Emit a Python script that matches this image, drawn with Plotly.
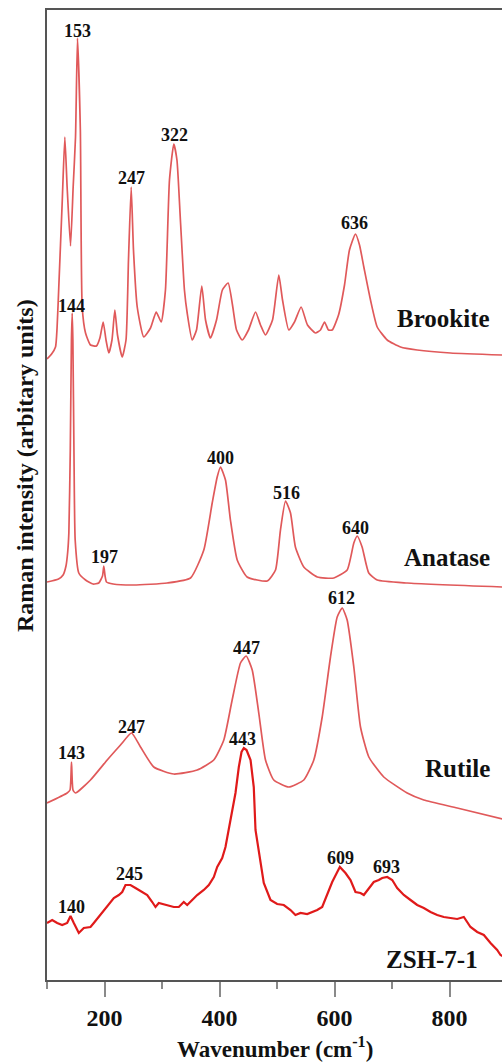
import plotly.graph_objects as go

# ---------------- data (wavenumber in cm-1, intensity in arbitrary units, stacked) -------------
brookite_x = [100, 108, 114.8, 117.5, 120.5, 126.4, 131, 135, 140.9, 145.5, 149.6, 153, 158, 161.2, 167,
              175.6, 186, 192, 197.7, 202.6, 207.5, 213, 218, 222.6, 230.8, 237.4, 241.7, 246.4, 250.4,
              256.9, 268.3, 280, 289.9, 298.6, 306, 313, 320.5, 326, 332, 339, 343.8, 352.5, 360, 369.2,
              375.7, 384.3, 394.8, 405, 415, 422.6, 429.6, 439.5, 450.4, 462.6, 471.3, 480, 492.2, 503.1,
              509.6, 520.5, 530.4, 542, 553, 567, 575.6, 582.6, 589.5, 596, 607, 617.4, 626, 636.5, 643.5,
              651, 662.6, 674.3, 691.7, 714.8, 743.8, 801.7, 892]
brookite_y = [621, 626, 633, 652, 693, 777, 843, 793, 734, 793, 843, 942, 850, 673, 647,
              635, 634, 642, 658, 640, 627, 640, 670, 645, 623, 640, 720, 793, 730,
              673, 643, 652, 668, 658, 690, 800, 836, 820, 760, 690, 667, 640, 650, 694,
              660, 642, 660, 690, 697, 675, 650, 640, 650, 668, 655, 645, 660, 705,
              680, 650, 658, 673, 655, 647, 650, 658, 650, 650, 665, 695, 730, 746, 735,
              713, 680, 653, 640, 633, 630, 627, 625]

anatase_x = [100, 120, 128, 133, 136, 138, 140.5, 142.5, 143.8, 145, 147, 149, 155.3, 167, 180, 190,
             196.5, 198.8, 201, 203.5, 215, 251, 309, 349.6, 372.7, 387.3, 396, 401.7, 410.4, 419,
             430.8, 448, 483, 497.4, 506, 514.8, 523.5, 532, 546.6, 570, 598.8, 622, 633.6, 639.5,
             648, 659.6, 674.3, 726.4, 892]
anatase_y = [398, 401, 405, 414, 428, 447, 530, 640, 667, 640, 520, 440, 407, 400, 396, 397,
             404, 414, 404, 398, 396, 395, 397, 402, 430, 477, 503, 513, 500, 460,
             420, 403, 399, 410, 450, 479, 467, 433, 413, 403, 402, 410, 437, 444,
             433, 407, 400, 397, 393]

rutile_x = [100, 135, 140, 142.6, 145.2, 149.6, 175.6, 204.7, 227.8, 247, 262.6, 285.7, 320.5, 361.2,
            390, 407.5, 422, 436.5, 446.4, 456.9, 468.3, 480, 494.4, 520.5, 546.6, 564, 578.6, 593,
            604.7, 613.4, 622, 633.6, 645.2, 659.7, 685.7, 726.4, 755.3, 813.4, 892]
rutile_y = [177, 187, 190, 218, 190, 187, 200, 220, 235, 247, 233, 213, 206, 210,
            220, 240, 280, 317, 324, 310, 267, 220, 200, 193, 200, 220, 263, 323,
            363, 372, 360, 313, 253, 223, 203, 187, 180, 172, 161]

zsh_x = [100, 109, 117.7, 126.4, 135.1, 140.9, 146.6, 155.3, 164, 175.6, 181.4, 193, 204.7, 216.2, 224.9,
         230.8, 236.5, 245.2, 253.9, 262.6, 274.3, 283, 288.7, 294.4, 306.1, 320.5, 329.2, 337.9, 343.8,
         352.5, 361.2, 372.7, 381.4, 390.1, 396, 404.7, 410.4, 419.1, 427.8, 433.6, 438.3, 442.3, 447,
         454, 459.6, 462.6, 468.3, 477, 488.7, 500.3, 511.8, 523.5, 532.1, 540.9, 552.5, 561.2, 569.9,
         578.6, 587.3, 596, 604.8, 609.3, 619.1, 627.8, 636.5, 645.2, 651, 659.7, 668.3, 677, 682.9,
         691.7, 700.4, 709, 720.5, 732.2, 743.8, 755.3, 767, 778.6, 790.1, 801.7, 813.4, 824.9, 836.5,
         848.2, 859.7, 871.3, 882.9, 888.7, 892]
zsh_y = [57, 60, 57, 55, 57, 64, 57, 47, 52, 53, 57, 65, 73, 82, 85,
         88, 95, 95, 92, 89, 85, 78, 73, 77, 75, 73, 73, 78, 75,
         80, 85, 90, 95, 103, 113, 122, 133, 160, 187, 213, 228, 232, 230,
         220, 193, 150, 127, 97, 80, 76, 75, 70, 65, 67, 66, 68, 70,
         73, 85, 98, 108, 113, 107, 100, 88, 87, 85, 92, 98, 100, 102,
         103, 100, 92, 85, 80, 75, 72, 68, 65, 63, 62, 61, 63, 53,
         48, 45, 37, 30, 25, 24]

peak_labels = ["153", "247", "322", "636",
               "144", "197", "400", "516", "640",
               "143", "247", "447", "612",
               "140", "245", "443", "609", "693"]
peak_label_x = [153, 246.4, 321.7, 635.3,
                142, 200.5, 401.7, 516, 636.5,
                142, 247.3, 447, 612,
                142, 244, 440.4, 609.6, 690.8]
peak_label_y = [949, 802, 845, 757,
                674, 423, 522, 487, 452,
                227, 253, 332, 382,
                73, 106, 241, 122, 113]

series_names = ["Brookite", "Anatase", "Rutile", "ZSH-7-1"]
series_label_x = [874, 874, 874, 853]
series_label_y = [662, 423, 212, 21]

x_ticks = [200, 400, 600, 800]

# ---------------- figure -------------
SERIF = "Liberation Serif"
ref_color = "#e0595a"
zsh_color = "#e01a1a"

fig = go.Figure()
for xs, ys, col, w, shp in [
    (brookite_x, brookite_y, ref_color, 1.7, "spline"),
    (anatase_x, anatase_y, ref_color, 1.7, "spline"),
    (rutile_x, rutile_y, ref_color, 1.7, "spline"),
    (zsh_x, zsh_y, zsh_color, 2.2, "linear"),
]:
    fig.add_trace(go.Scatter(x=xs, y=ys, mode="lines",
                             line=dict(color=col, width=w, shape=shp, smoothing=0.5),
                             showlegend=False, hoverinfo="skip"))

for t, x, y in zip(peak_labels, peak_label_x, peak_label_y):
    fig.add_annotation(x=x, y=y, text=t, showarrow=False, xanchor="center", yanchor="middle",
                       font=dict(family=SERIF, size=18, color="#111", weight="bold"))

for t, x, y in zip(series_names, series_label_x, series_label_y):
    fig.add_annotation(x=x, y=y, text=t, showarrow=False, xanchor="right", yanchor="middle",
                       font=dict(family=SERIF, size=25, color="#111", weight="bold"))

# axis titles
fig.add_annotation(xref="paper", yref="y", x=-22 / 455, y=514, text="Raman intensity (arbitary units)",
                   textangle=-90, showarrow=False, xanchor="center", yanchor="middle",
                   font=dict(family=SERIF, size=24, color="#111", weight="bold"))
fig.add_annotation(xref="paper", yref="paper", x=(275 - 47) / 455, y=-67 / 970,
                   text="Wavenumber (cm<sup>-1</sup>)", showarrow=False,
                   xanchor="center", yanchor="middle",
                   font=dict(family=SERIF, size=23, color="#111", weight="bold"))

fig.update_layout(
    width=502, height=1062,
    margin=dict(l=47, r=0, t=10, b=82),
    paper_bgcolor="white", plot_bgcolor="white",
    xaxis=dict(range=[100, 891.3], tickvals=x_ticks, ticks="outside", ticklen=15, tickwidth=1.5,
               tickcolor="#8a8a8a", showline=True, linecolor="#555", linewidth=2, mirror=True,
               showgrid=False, zeroline=False,
               tickfont=dict(family=SERIF, size=24, color="#111", weight="bold"),
               minor=dict(dtick=100, tick0=0, ticks="outside", ticklen=7, tickwidth=1.5,
                          tickcolor="#8a8a8a", showgrid=False)),
    yaxis=dict(range=[0, 970], showticklabels=False, ticks="", showline=True, linecolor="#555",
               linewidth=2, mirror=False, showgrid=False, zeroline=False),
)

fig.write_html("out.html", config={"displayModeBar": False},
               post_script="document.body.style.margin='0px';document.body.style.overflow='hidden';")
